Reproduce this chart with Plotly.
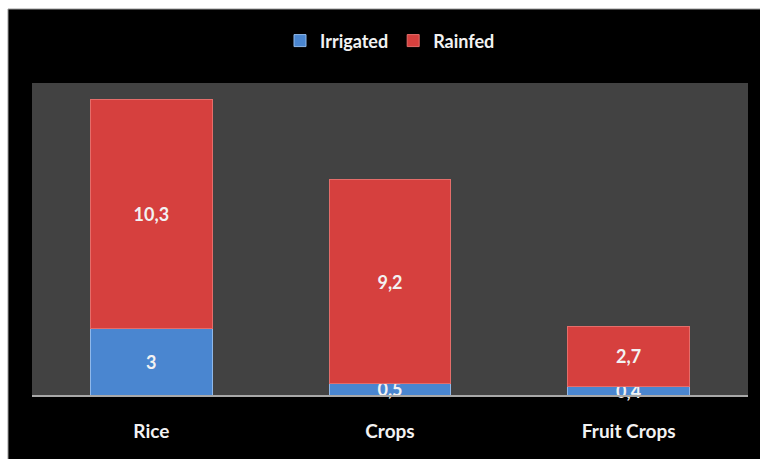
import plotly.graph_objects as go

# Area by crop type, split by water source
categories = ["Rice", "Crops", "Fruit Crops"]
irrigated = [3, 0.5, 0.4]
rainfed = [10.3, 9.2, 2.7]

BLUE = "#4a86d0"
RED = "#d6403e"
TEXT = "#f2f2f2"
FONT = "Lato"

fig = go.Figure()
fig.add_trace(go.Bar(
    name="Irrigated", x=categories, y=irrigated,
    marker=dict(color=BLUE, line=dict(color="#8fb8ea", width=1)),
    text=irrigated, texttemplate="%{y}", textposition="inside",
    insidetextanchor="middle", constraintext="none", cliponaxis=False,
    textfont=dict(family=FONT, size=18, color=TEXT, weight="bold"),
))
fig.add_trace(go.Bar(
    name="Rainfed", x=categories, y=rainfed,
    marker=dict(color=RED, line=dict(color="#e56d6a", width=1)),
    text=rainfed, texttemplate="%{y}", textposition="inside",
    insidetextanchor="middle", constraintext="none", cliponaxis=False,
    textfont=dict(family=FONT, size=18, color=TEXT, weight="bold"),
))

# white frame strips along the top and left edges of the page
frame = dict(type="rect", xref="paper", yref="paper", xsizemode="pixel",
             ysizemode="pixel", fillcolor="white", line=dict(width=0), layer="above")
fig.add_shape(**frame, xanchor=0, yanchor=1, x0=-40, x1=740, y0=74, y1=90)
fig.add_shape(**frame, xanchor=0, yanchor=1, x0=-40, x1=-24, y0=-400, y1=90)
fig.add_shape(type="line", xref="paper", yref="paper", xsizemode="pixel",
              ysizemode="pixel", xanchor=0, yanchor=1, x0=-24, x1=-24,
              y0=-400, y1=74, line=dict(color="#9a9a9a", width=1), layer="above")
fig.add_shape(type="line", xref="paper", yref="paper", xsizemode="pixel",
              ysizemode="pixel", xanchor=0, yanchor=1, x0=-24, x1=740,
              y0=74, y1=74, line=dict(color="#9a9a9a", width=1), layer="above")

fig.update_layout(
    width=760, height=459,
    margin=dict(l=32, r=12, t=83, b=64),
    barmode="stack", bargap=0.49,
    separators=", ",
    paper_bgcolor="black", plot_bgcolor="#424242",
    uniformtext=dict(minsize=18, mode="show"),
    showlegend=True,
    legend=dict(orientation="h", x=0.5, xanchor="center", y=1.135, yanchor="middle",
                font=dict(family=FONT, size=18, color=TEXT, weight="bold"),
                bgcolor="rgba(0,0,0,0)", itemwidth=30, traceorder="normal"),
    font=dict(family=FONT, color=TEXT),
)
fig.update_xaxes(showline=True, linecolor="#a8a8a8", linewidth=2, ticks="",
                 tickfont=dict(family=FONT, size=19, color=TEXT, weight="bold"),
                 ticklabelstandoff=18, showgrid=False)
fig.update_yaxes(range=[0, 14.05], visible=False, showgrid=False, zeroline=False)

fig.write_html("out.html")
